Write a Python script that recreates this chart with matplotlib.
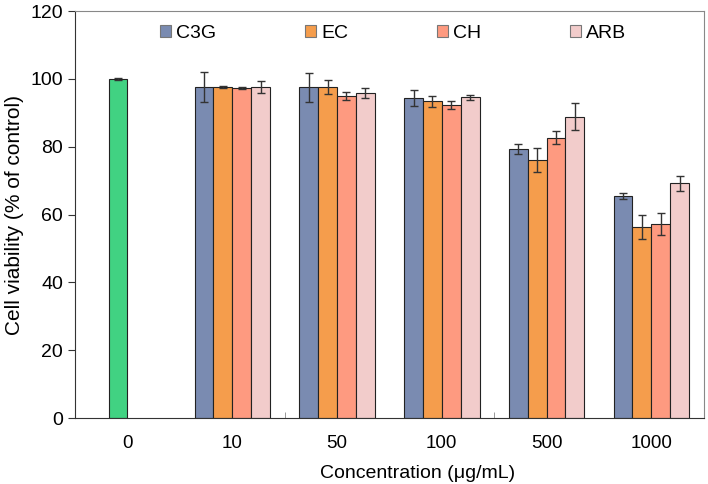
import numpy as np
import matplotlib.pyplot as plt

plt.rcParams['font.family'] = ['Liberation Sans', 'DejaVu Sans']

# data
concs = ['0', '10', '50', '100', '500', '1000']
series = ['C3G', 'EC', 'CH', 'ARB']
colors = ['#7A8BB1', '#F59D4C', '#FE9A80', '#F2CCCB']
control_val = 100.0
control_err = 0.2
c3g = [97.6, 97.5, 94.4, 79.3, 65.5]
ec = [97.7, 97.7, 93.4, 76.2, 56.4]
ch = [97.2, 95.0, 92.3, 82.7, 57.2]
arb = [97.7, 95.9, 94.6, 88.9, 69.2]
c3g_err = [4.5, 4.2, 2.3, 1.4, 0.8]
ec_err = [0.3, 2.0, 1.6, 3.5, 3.6]
ch_err = [0.3, 1.1, 1.2, 1.9, 3.3]
arb_err = [1.8, 1.5, 0.7, 3.9, 2.2]

values = [c3g, ec, ch, arb]
errors = [c3g_err, ec_err, ch_err, arb_err]

fig = plt.figure(figsize=(7.08, 4.84), dpi=100)
ax = fig.add_axes([0.106, 0.136, 0.888, 0.841])

w = 0.18
x = np.arange(len(concs)) + 0.5
err_kw = dict(ecolor='#333333', elinewidth=1, capsize=3, capthick=1)

# control bar sits a bit left of its label
ax.bar(x[0] - 0.09, control_val, w, yerr=control_err, color='#41D282',
       edgecolor='#222222', linewidth=0.8, error_kw=err_kw)

for i, (name, vals, errs, col) in enumerate(zip(series, values, errors, colors)):
    xs = x[1:] + (i - 1.5) * w
    ax.bar(xs, vals, w, yerr=errs, color=col, edgecolor='#222222',
           linewidth=0.8, error_kw=err_kw, label=name)

ax.set_xlim(0, 6)
ax.set_ylim(0, 120)
ax.set_yticks(range(0, 121, 20))
ax.set_xticks(x)
ax.set_xticklabels(concs)
ax.set_xticks([2, 4], minor=True)
ax.tick_params(axis='x', which='major', length=0, labelsize=13.5, pad=12)
ax.tick_params(axis='x', which='minor', length=4, direction='in', color='#888888')
ax.tick_params(axis='y', labelsize=14, length=5, color='#333333')

for s in ['top', 'right']:
    ax.spines[s].set_color('#888888')
ax.spines['left'].set_color('#333333')
ax.spines['bottom'].set_color('#333333')

ax.set_ylabel('Cell viability (% of control)', fontsize=15, labelpad=5)
ax.set_xlabel('Concentration (\u03bcg/mL)', fontsize=14, labelpad=8)
ax.xaxis.set_label_coords(0.545, -0.115)

leg = ax.legend(ncol=4, loc='upper center', bbox_to_anchor=(0.506, 1.01),
                frameon=False, fontsize=14, handlelength=0.55, handleheight=0.55,
                handletextpad=0.25, columnspacing=4.6)
for h in leg.legend_handles:
    h.set_edgecolor('#777777')

fig.savefig('out.png', dpi=100)
